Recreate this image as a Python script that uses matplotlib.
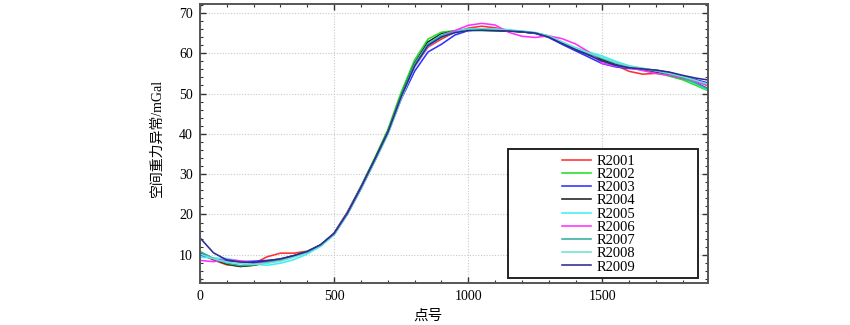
import matplotlib
matplotlib.use("Agg")
import matplotlib.pyplot as plt
from matplotlib.ticker import MultipleLocator
from matplotlib.patches import Rectangle

# point numbers (every 50 points)
points = list(range(0, 1901, 50))

# free-air gravity anomaly (mGal) for each survey line
r2001 = [10.4, 8.7, 7.5, 7.2, 7.8, 9.5, 10.4, 10.4, 10.9, 12.4, 15.2, 20.4, 26.6, 33.4, 40.4, 49.2, 56.8, 61.5, 63.5, 65.2,
         66.2, 66.7, 66.3, 65.7, 65.3, 65.0, 64.3, 62.6, 61.0, 59.6, 58.3, 57.0, 55.5, 54.8, 55.0, 54.8, 53.9, 53.0, 52.0]
r2002 = [10.7, 9.0, 7.7, 7.1, 7.4, 8.0, 8.8, 9.7, 10.8, 12.5, 15.4, 20.7, 27.0, 33.8, 41.0, 50.3, 58.3, 63.5, 65.2, 65.6,
         65.7, 65.6, 65.6, 65.5, 65.3, 64.9, 64.0, 62.5, 61.0, 59.6, 58.3, 57.4, 56.4, 55.8, 55.1, 54.3, 53.4, 52.0, 50.5]
r2003 = [10.0, 8.9, 8.5, 8.3, 8.4, 8.6, 8.9, 9.6, 10.6, 12.3, 15.0, 20.1, 26.3, 33.0, 40.0, 48.6, 55.5, 60.3, 62.2, 64.5,
         65.6, 65.9, 65.8, 65.6, 65.3, 64.9, 63.9, 62.2, 60.6, 59.0, 57.4, 56.6, 56.2, 56.0, 55.8, 55.2, 54.2, 53.4, 52.5]
r2004 = [10.6, 8.9, 7.7, 7.1, 7.4, 8.1, 8.9, 9.8, 10.8, 12.4, 15.3, 20.5, 26.8, 33.5, 40.5, 49.5, 57.5, 62.8, 64.8, 65.5,
         65.8, 65.7, 65.6, 65.5, 65.3, 65.0, 64.2, 62.6, 61.0, 59.7, 58.4, 57.3, 56.5, 56.0, 55.3, 54.6, 53.8, 52.6, 51.0]
r2005 = [9.4, 9.2, 9.1, 8.4, 7.7, 7.4, 7.9, 8.8, 10.2, 12.1, 15.0, 20.2, 26.5, 33.2, 40.3, 49.3, 57.2, 62.3, 64.5, 65.5,
         66.0, 66.1, 66.0, 65.8, 65.5, 65.1, 64.2, 62.8, 61.4, 60.3, 59.3, 58.0, 56.9, 56.2, 55.6, 54.9, 53.9, 52.4, 50.6]
r2006 = [8.6, 8.3, 8.8, 8.5, 8.0, 8.2, 8.7, 9.6, 10.7, 12.4, 15.4, 20.6, 26.8, 33.3, 40.2, 49.0, 56.6, 61.6, 64.2, 65.6,
         66.9, 67.4, 67.0, 65.2, 64.2, 63.9, 64.3, 63.6, 62.3, 60.3, 57.5, 56.8, 56.4, 55.7, 55.0, 54.5, 53.8, 52.9, 51.8]
r2007 = [10.8, 9.1, 7.9, 7.3, 7.5, 8.1, 8.8, 9.7, 10.8, 12.5, 15.2, 20.3, 26.5, 33.1, 40.0, 49.0, 57.0, 62.2, 64.3, 65.2,
         65.7, 65.9, 65.8, 65.6, 65.4, 65.0, 64.1, 62.5, 61.1, 59.9, 58.7, 57.5, 56.6, 56.1, 55.6, 54.9, 54.0, 52.5, 50.9]
r2008 = [10.2, 9.0, 8.2, 7.8, 7.6, 7.9, 8.4, 9.4, 10.6, 12.3, 15.1, 20.2, 26.4, 33.0, 39.8, 48.7, 56.6, 61.8, 64.0, 65.1,
         65.7, 66.0, 65.9, 65.7, 65.4, 65.1, 64.3, 62.8, 61.3, 60.1, 58.9, 57.7, 56.8, 56.3, 55.7, 55.0, 54.2, 53.2, 52.2]
r2009 = [14.2, 10.5, 8.7, 8.2, 8.1, 8.5, 9.0, 9.8, 10.8, 12.5, 15.3, 20.4, 26.7, 33.4, 40.3, 49.2, 56.8, 61.9, 64.0, 65.1,
         65.6, 65.7, 65.6, 65.5, 65.3, 65.0, 64.0, 62.4, 60.9, 59.5, 58.0, 57.0, 56.4, 56.1, 55.8, 55.3, 54.5, 53.8, 53.3]

line_names = ["R2001", "R2002", "R2003", "R2004", "R2005", "R2006", "R2007", "R2008", "R2009"]
line_values = [r2001, r2002, r2003, r2004, r2005, r2006, r2007, r2008, r2009]
line_colors = ["#ff3030", "#22e022", "#3030ff", "#202020", "#40f0f0",
               "#ff30ff", "#30b0a0", "#70e0d0", "#2c2c90"]

x_ticks = [0, 500, 1000, 1500]
y_ticks = [10, 20, 30, 40, 50, 60, 70]

serif = ["Liberation Serif", "DejaVu Serif"]
cjk = ["Liberation Serif", "Noto Sans CJK SC", "DejaVu Sans"]

fig = plt.figure(figsize=(8.5, 3.25), dpi=100)
ax = fig.add_axes([200 / 850, 42 / 325, 508 / 850, 279 / 325])

for name, vals, col in zip(line_names, line_values, line_colors):
    ax.plot(points, vals, color=col, lw=1.15, label=name)

ax.set_xlim(0, 1894)
ax.set_ylim(3.0, 72.2)
ax.set_xticks(x_ticks)
ax.set_yticks(y_ticks)
ax.xaxis.set_minor_locator(MultipleLocator(100))
ax.yaxis.set_minor_locator(MultipleLocator(2))
ax.tick_params(which="both", direction="in", top=True, right=True, colors="#333333",
               labelcolor="black")
ax.tick_params(which="major", length=4, width=1.0, pad=5)
ax.tick_params(which="minor", length=2.5, width=0.8)
for lab in ax.get_xticklabels() + ax.get_yticklabels():
    lab.set_fontfamily(serif)
    lab.set_fontsize(10)

for sp in ax.spines.values():
    sp.set_color("#555555")
    sp.set_linewidth(1.4)

ax.grid(True, which="major", linestyle=(0, (1, 1.5)), color="#c8c8c8", lw=0.8)

ax.set_xlabel("点号", family=cjk, fontsize=10.5)
ax.xaxis.set_label_coords(0.449, -0.095)
ax.set_ylabel("空间重力异常/mGal", family=cjk, fontsize=10)
ax.yaxis.set_label_coords(-0.072, 0.52)

# legend frame drawn as a separate box, entries centred inside it
frame = Rectangle((0.606, 0.018), 0.374, 0.462, transform=ax.transAxes,
                  facecolor="white", edgecolor="#222222", lw=1.4, zorder=4)
ax.add_patch(frame)
leg = ax.legend(loc="center", bbox_to_anchor=(0.785, 0.247), frameon=False,
                prop={"family": serif, "size": 10.5}, labelspacing=0.0,
                handlelength=2.0, handletextpad=0.35, borderpad=0.2)
leg.set_zorder(5)

fig.savefig("out.png", dpi=100)
